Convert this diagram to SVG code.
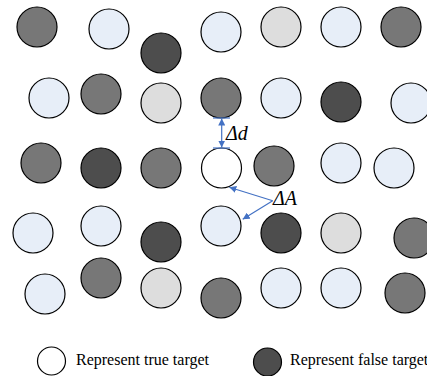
<svg xmlns="http://www.w3.org/2000/svg" width="427" height="376" viewBox="0 0 427 376">
<style>
circle{stroke:#000;stroke-width:1.2}
.g{fill:#777777}.d{fill:#4D4D4D}.b{fill:#E7EEF8}.l{fill:#DDDDDD}.w{fill:#FFFFFF}
.conn line{stroke:#4472C4;stroke-width:1.2;fill:none}
.lbl{font-family:"Liberation Serif",serif;font-style:italic;font-size:20px;fill:#000}
.leg{font-family:"Liberation Serif",serif;font-size:16px;fill:#000}
</style>
<defs>
<marker id="ah" viewBox="0 0 10 10" refX="10" refY="5" markerWidth="7" markerHeight="7" orient="auto-start-reverse" markerUnits="userSpaceOnUse">
<path d="M0,0 L10,5 L0,10 z" fill="#4472C4"/>
</marker>
</defs>
<rect width="427" height="376" fill="#fff"/>
<g id="targets">
<circle id="t1" class="g" cx="37" cy="27" r="20"/>
<circle id="t2" class="b" cx="109" cy="29" r="20"/>
<circle id="t3" class="d" cx="161" cy="53" r="20"/>
<circle id="t4" class="b" cx="221" cy="32" r="20"/>
<circle id="t5" class="l" cx="281" cy="27" r="20"/>
<circle id="t6" class="b" cx="341" cy="27" r="20"/>
<circle id="t7" class="g" cx="401" cy="27" r="20"/>
<circle id="t8" class="b" cx="49" cy="98" r="20"/>
<circle id="t9" class="g" cx="101" cy="94" r="20"/>
<circle id="t10" class="l" cx="161" cy="103" r="20"/>
<circle id="t11" class="g" cx="221" cy="98" r="20"/>
<circle id="t12" class="b" cx="281" cy="98" r="20"/>
<circle id="t13" class="d" cx="341" cy="102" r="20"/>
<circle id="t14" class="b" cx="411" cy="103" r="20"/>
<circle id="t15" class="g" cx="41" cy="163" r="20"/>
<circle id="t16" class="d" cx="101" cy="168" r="20"/>
<circle id="t17" class="g" cx="161" cy="168" r="20"/>
<circle id="t18" class="w" cx="221.5" cy="168" r="20"/>
<circle id="t19" class="g" cx="274" cy="166" r="20"/>
<circle id="t20" class="b" cx="341" cy="163" r="20"/>
<circle id="t21" class="b" cx="394" cy="168" r="20"/>
<circle id="t22" class="b" cx="33" cy="233" r="20"/>
<circle id="t23" class="b" cx="101" cy="226" r="20"/>
<circle id="t24" class="d" cx="161" cy="242" r="20"/>
<circle id="t25" class="b" cx="221" cy="226" r="20"/>
<circle id="t26" class="d" cx="281" cy="233" r="20"/>
<circle id="t27" class="l" cx="341" cy="233" r="20"/>
<circle id="t28" class="g" cx="414" cy="238" r="20"/>
<circle id="t29" class="b" cx="45" cy="294" r="20"/>
<circle id="t30" class="g" cx="101" cy="278" r="20"/>
<circle id="t31" class="l" cx="161" cy="288" r="20"/>
<circle id="t32" class="g" cx="221" cy="298" r="20"/>
<circle id="t33" class="b" cx="281" cy="288" r="20"/>
<circle id="t34" class="b" cx="341" cy="288" r="20"/>
<circle id="t35" class="g" cx="405" cy="293" r="20"/>
</g>
<g id="connectors" class="conn">
<line x1="213" y1="118" x2="230" y2="118"/>
<line x1="213" y1="148" x2="230" y2="148"/>
<line x1="221.7" y1="118.5" x2="221.7" y2="147.5" marker-start="url(#ah)" marker-end="url(#ah)"/>
<line x1="272.7" y1="200.7" x2="229.3" y2="187.3" marker-end="url(#ah)"/>
<line x1="272.7" y1="200.7" x2="242.7" y2="219.3" marker-end="url(#ah)"/>
</g>
<g id="labels">
<text class="lbl" x="226" y="139.5">Δd</text>
<text class="lbl" x="273" y="205">ΔA</text>
</g>
<g id="legend-true">
<circle class="w" cx="51.5" cy="361" r="14"/>
<text class="leg" x="76" y="365">Represent true target</text>
</g>
<g id="legend-false">
<circle class="d" cx="267.5" cy="362" r="14"/>
<text class="leg" x="290" y="365">Represent false target</text>
</g>
</svg>
